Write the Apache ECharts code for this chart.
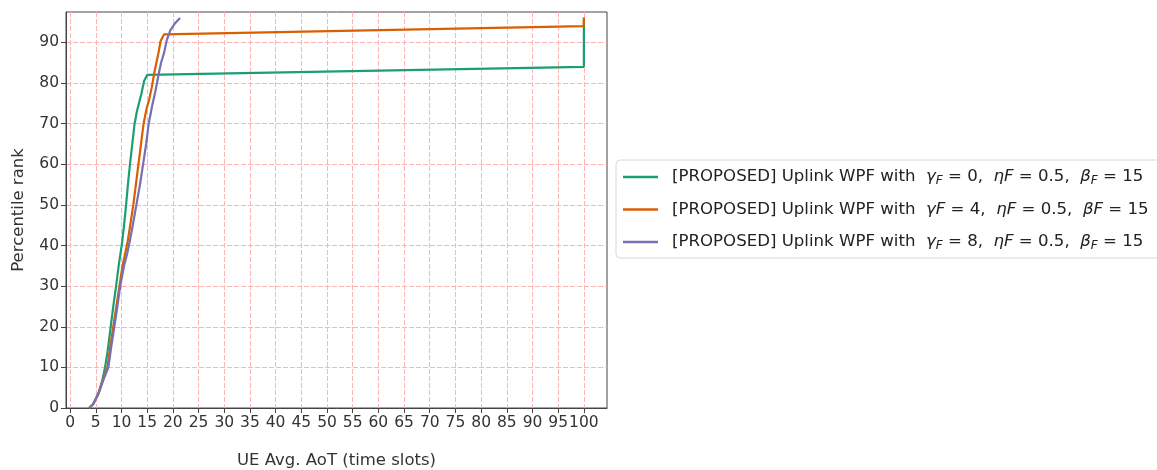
<!DOCTYPE html>
<html>
<head>
<meta charset="utf-8">
<script src="https://cdn.jsdelivr.net/npm/echarts@6/dist/echarts.min.js"></script>
<style>
  html, body { margin: 0; padding: 0; background: #fff; }
  #chart { width: 1157px; height: 470px; }
</style>
</head>
<body>
<div id="chart"></div>
<script>
// Empirical CDF of the per-UE average AoT, one curve per γF setting.
// Each point: [AoT in time slots, percentile rank]
const seriesNames = [
  '[PROPOSED] Uplink WPF with γF=0, ηF=0.5, βF=15',
  '[PROPOSED] Uplink WPF with γF=4, ηF=0.5, βF=15',
  '[PROPOSED] Uplink WPF with γF=8, ηF=0.5, βF=15'
];

const gamma0 = [
  [3.7, 0], [4.5, 1], [5.5, 3.5], [6.3, 7], [6.8, 10], [7.3, 14], [7.9, 20],
  [8.4, 25], [8.95, 30], [9.45, 35], [9.8, 38], [10.15, 41], [10.5, 45],
  [10.9, 50], [11.25, 55], [11.65, 60], [12.1, 65], [12.55, 70], [13.0, 73],
  [13.5, 75.5], [13.9, 77.5], [14.4, 80.5], [15.0, 82], [100, 84], [100, 95.5]
];

const gamma4 = [
  [3.7, 0], [4.5, 1], [5.5, 3.5], [6.4, 7], [7.25, 10], [7.8, 15], [8.4, 20],
  [9.0, 25], [9.6, 30], [10.2, 35], [10.7, 38], [11.2, 41], [11.7, 45],
  [12.3, 50], [12.8, 55], [13.3, 60], [13.8, 65], [14.3, 70], [14.9, 73.8],
  [15.4, 76], [15.9, 79], [16.5, 83.3], [17.2, 87.4], [17.6, 90.3], [18.3, 92],
  [100, 94], [100, 96.2]
];

const gamma8 = [
  [3.7, 0], [4.5, 1], [5.5, 3.5], [6.5, 7], [7.45, 10], [8.0, 15], [8.6, 20],
  [9.2, 25], [9.75, 30], [10.5, 35], [11.1, 38], [11.6, 41], [12.2, 45],
  [12.9, 50], [13.6, 55], [14.2, 60], [14.8, 65], [15.3, 70], [15.9, 74],
  [16.6, 78], [17.2, 82], [17.7, 85], [18.3, 87.5], [18.8, 90.5], [19.5, 93],
  [20.4, 94.7], [21.4, 96]
];

const xTicks = [0, 5, 10, 15, 20, 25, 30, 35, 40, 45, 50, 55, 60, 65, 70, 75, 80, 85, 90, 95, 100];
const yTicks = [0, 10, 20, 30, 40, 50, 60, 70, 80, 90];

// Legend labels with mathtext-like italics and subscripts
const legendRich = [
  '[PROPOSED] Uplink WPF with  {i|γ}{s|F}{n| = 0,  }{i|ηF}{n| = 0.5,  }{i|β}{s|F}{n| = 15}',
  '[PROPOSED] Uplink WPF with  {i|γF}{n| = 4,  }{i|ηF}{n| = 0.5,  }{i|βF}{n| = 15}',
  '[PROPOSED] Uplink WPF with  {i|γ}{s|F}{n| = 8,  }{i|ηF}{n| = 0.5,  }{i|β}{s|F}{n| = 15}'
];

const colors = ['#1b9e77', '#d95f02', '#7570b3'];
const FONT = 'DejaVu Sans';
const LFS = 16.6;

const chart = echarts.init(document.getElementById('chart'), null, { renderer: 'canvas' });

const gridLine = { show: true, lineStyle: { color: '#ffb4b4', width: 1, type: [5, 2] } };

const mkSeries = (name, data, color) => ({
  name,
  type: 'line',
  data,
  showSymbol: false,
  symbol: 'none',
  animation: false,
  lineStyle: { color, width: 2.2 },
  itemStyle: { color },
  emphasis: { disabled: true }
});

chart.setOption({
  animation: false,
  textStyle: { fontFamily: FONT },
  grid: {
    left: 66, right: 550, top: 12, bottom: 62,
    outerBoundsMode: 'none',
    containLabel: false,
    show: true, borderColor: '#444', borderWidth: 1, backgroundColor: 'transparent'
  },
  xAxis: {
    type: 'value',
    min: -0.8, max: 104.5,
    name: 'UE Avg. AoT (time slots)',
    nameLocation: 'middle', nameGap: 44,
    nameTextStyle: { fontFamily: FONT, fontSize: 16.5, color: '#333' },
    axisLine: { show: true, onZero: false, lineStyle: { color: '#444', width: 1 } },
    axisTick: { show: true, inside: false, length: 5, customValues: xTicks, lineStyle: { color: '#444' } },
    axisLabel: { customValues: xTicks, fontFamily: FONT, fontSize: 15.5, color: '#333', margin: 7 },
    splitLine: gridLine
  },
  yAxis: {
    type: 'value',
    min: 0, max: 97.5,
    name: 'Percentile rank',
    nameLocation: 'middle', nameGap: 39,
    nameTextStyle: { fontFamily: FONT, fontSize: 16.5, color: '#333' },
    axisLine: { show: true, onZero: false, lineStyle: { color: '#444', width: 1 } },
    axisTick: { show: true, inside: false, length: 5, customValues: yTicks, lineStyle: { color: '#444' } },
    axisLabel: { customValues: yTicks, fontFamily: FONT, fontSize: 15.5, color: '#333', margin: 7 },
    splitLine: gridLine
  },
  legend: {
    orient: 'vertical',
    left: 616, top: 160,
    width: 560,
    padding: [7, 20, 6, 7],
    itemGap: 12.5,
    itemWidth: 35, itemHeight: 2.5,
    icon: 'rect',
    borderColor: '#d8d8d8', borderWidth: 1, borderRadius: 4,
    backgroundColor: '#fff',
    data: seriesNames.map((n, i) => ({ name: n, itemStyle: { color: colors[i] } })),
    formatter: (name) => legendRich[seriesNames.indexOf(name)],
    textStyle: {
      fontFamily: FONT, fontSize: LFS, color: '#222', lineHeight: 20,
      padding: [0, 0, 0, 9],
      rich: {
        i: { fontFamily: FONT, fontSize: LFS, fontStyle: 'italic', color: '#222', lineHeight: 20 },
        s: { fontFamily: FONT, fontSize: 12, fontStyle: 'italic', color: '#222', lineHeight: 20, verticalAlign: 'bottom' },
        n: { fontFamily: FONT, fontSize: LFS, color: '#222', lineHeight: 20 }
      }
    },
    selectedMode: false
  },
  series: [
    mkSeries(seriesNames[0], gamma0, colors[0]),
    mkSeries(seriesNames[1], gamma4, colors[1]),
    mkSeries(seriesNames[2], gamma8, colors[2])
  ]
});
</script>
</body>
</html>
